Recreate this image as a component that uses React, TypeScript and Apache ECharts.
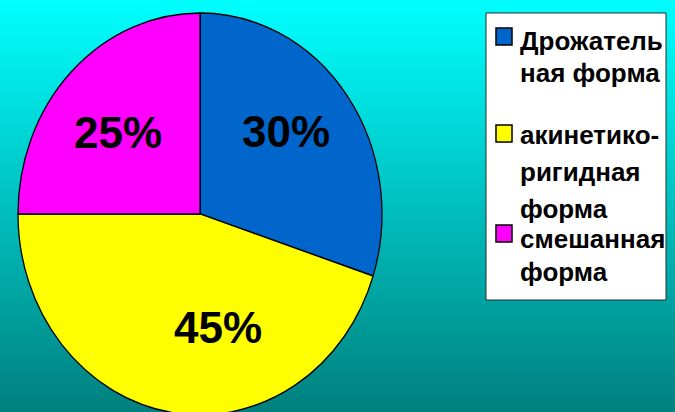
import React, { useEffect, useRef } from "react";
import * as echarts from "echarts";

// Data
const categories = ["Дрожатель\nная форма", "акинетико-\nригидная\nформа", "смешанная\nформа"];
const values = [30, 45, 25];
const percentLabels = ["30%", "45%", "25%"];

// Styles
const sliceColors = ["#0066CC", "#FFFF00", "#FF00FF"];
const labelOffsets = [
  [86, -83],
  [18, 113],
  [-82, -82],
];
const legendTextTops = [25, 116, 222];
const legendLineHeights = [32, 37, 33];
const legendMarkerTops = [28, 125, 225];

const CX = 200;
const CY = 214;
const RX = 182;
const RY = 201;
const FONT = '"Liberation Sans", Arial, sans-serif';

export default function App() {
  const ref = useRef<HTMLDivElement>(null);

  useEffect(() => {
    document.body.style.margin = "0";
    if (!ref.current) return;
    const chart = echarts.init(ref.current, null, { renderer: "svg" });
    const total = values.reduce((a, b) => a + b, 0);

    const legendGraphics: any[] = [
      {
        type: "rect",
        shape: { x: 486, y: 13, width: 180, height: 287 },
        style: { fill: "#ffffff", stroke: "#2a2a2a", lineWidth: 1 },
        z: 10,
      },
    ];
    categories.forEach((name, i) => {
      legendGraphics.push({
        type: "rect",
        shape: { x: 496, y: legendMarkerTops[i], width: 16, height: 17 },
        style: { fill: sliceColors[i], stroke: "#000", lineWidth: 1.5 },
        z: 11,
      });
      legendGraphics.push({
        type: "text",
        x: 520,
        y: legendTextTops[i],
        style: {
          text: name,
          font: `bold 26px ${FONT}`,
          fill: "#000",
          align: "left",
          verticalAlign: "top",
          lineHeight: legendLineHeights[i],
        },
        z: 11,
      });
    });

    chart.setOption({
      animation: false,
      backgroundColor: new echarts.graphic.LinearGradient(0, 0, 0, 1, [
        { offset: 0, color: "#00FFFF" },
        { offset: 1, color: "#00807E" },
      ]),
      graphic: legendGraphics,
      series: [
        {
          type: "custom",
          coordinateSystem: "none",
          data: values.map((v) => [v]),
          renderItem: (params: any, api: any) => {
            const idx = params.dataIndex;
            let before = 0;
            for (let k = 0; k < idx; k++) before += values[k];
            const v = api.value(0);
            const start = -Math.PI / 2 + (before / total) * Math.PI * 2;
            const end = start + (v / total) * Math.PI * 2;
            return {
              type: "group",
              children: [
                {
                  type: "sector",
                  shape: { cx: CX, cy: CY, r: RX, r0: 0, startAngle: start, endAngle: end, clockwise: true },
                  scaleY: RY / RX,
                  originX: CX,
                  originY: CY,
                  style: { fill: sliceColors[idx], stroke: "#000", lineWidth: 1.3 },
                },
                {
                  type: "text",
                  x: CX + labelOffsets[idx][0],
                  y: CY + labelOffsets[idx][1],
                  style: {
                    text: percentLabels[idx],
                    font: `bold 44px ${FONT}`,
                    fill: "#000",
                    align: "center",
                    verticalAlign: "middle",
                  },
                },
              ],
            };
          },
        },
      ],
    });
    return () => chart.dispose();
  }, []);

  return <div ref={ref} style={{ width: 675, height: 412 }} />;
}
